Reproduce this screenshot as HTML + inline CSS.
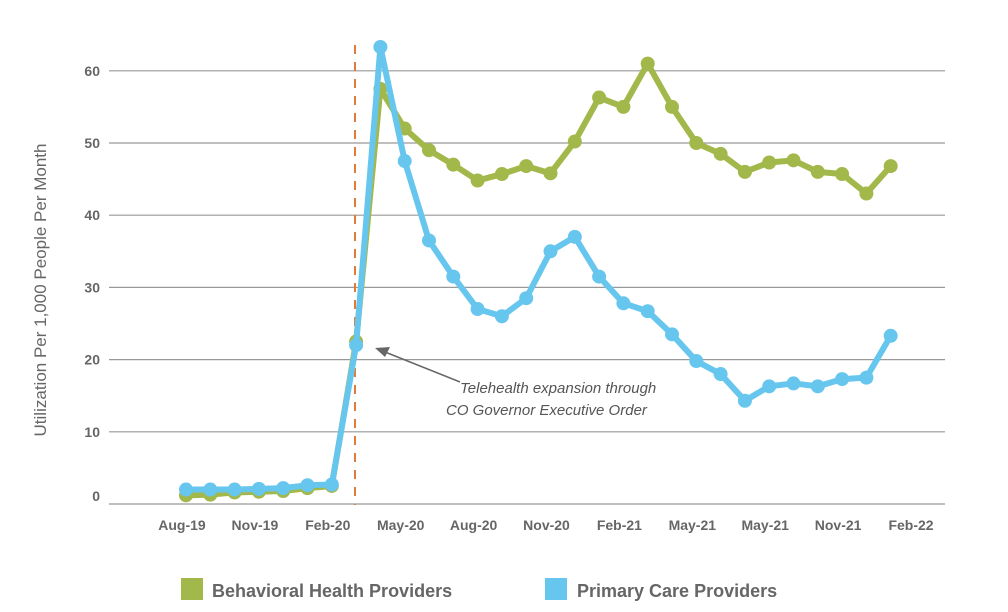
<!DOCTYPE html>
<html><head><meta charset="utf-8"><style>
body{margin:0;background:#fff;}
svg{display:block;font-family:"Liberation Sans",sans-serif;}
</style></head><body>
<svg id="chart" width="1008" height="612">
<g id="grid"></g>
<line x1="355" y1="45" x2="355" y2="505" stroke="#e07b39" stroke-width="2" stroke-dasharray="9,8"/>
<g id="series"></g>
<text transform="translate(46,290) rotate(-90)" text-anchor="middle" font-size="17" fill="#666">Utilization Per 1,000 People Per Month</text>
<g>
<line x1="460" y1="382" x2="385" y2="352" stroke="#666" stroke-width="1.5"/>
<polygon points="375,348 390,347 385,357" fill="#666"/>
<text x="460" y="393" font-size="15" font-style="italic" fill="#555">Telehealth expansion through</text>
<text x="446" y="415" font-size="15" font-style="italic" fill="#555">CO Governor Executive Order</text>
</g>
<g>
<rect x="181" y="578" width="22" height="22" fill="#a3b84a"/>
<text x="212" y="597" font-size="18" font-weight="bold" fill="#666">Behavioral Health Providers</text>
<rect x="545" y="578" width="22" height="22" fill="#67c6ee"/>
<text x="577" y="597" font-size="18" font-weight="bold" fill="#666">Primary Care Providers</text>
</g>
</svg>
<script>
const yTicks=[0,10,20,30,40,50,60];
const xLabels=["Aug-19","Nov-19","Feb-20","May-20","Aug-20","Nov-20","Feb-21","May-21","May-21","Nov-21","Feb-22"];
const behavioral=[1.2,1.3,1.6,1.7,1.8,2.2,2.5,22.5,57.5,52,49,47,44.8,45.7,46.8,45.8,50.2,56.3,55,61,55,50,48.5,46,47.3,47.6,46,45.7,43,46.8];
const primary=[2,2,2,2.1,2.2,2.6,2.7,22,63.3,47.5,36.5,31.5,27,26,28.5,35,37,31.5,27.8,26.7,23.5,19.8,18,14.3,16.3,16.7,16.3,17.3,17.5,23.3];
const NS="http://www.w3.org/2000/svg";
const y=v=>504-v*7.22;
const x=i=>186+i*24.3;
function mk(t,a,p){const e=document.createElementNS(NS,t);for(const k in a)e.setAttribute(k,a[k]);p.appendChild(e);return e;}
const grid=document.getElementById('grid');
yTicks.forEach(v=>{
 const l=mk('line',{x1:109,x2:945,y1:y(v),y2:y(v),stroke:'#999','stroke-width':1.2},grid);
 
 
 const t=mk('text',{x:100,y:y(v)+(v===0?-3:5),'text-anchor':'end','font-size':14,'font-weight':'bold',fill:'#666'},grid);
 t.textContent=v;
 
 
});
xLabels.forEach((s,k)=>{
 const t=mk('text',{x:x(k*3)-4,y:530,'text-anchor':'middle','font-size':14,'font-weight':'bold',fill:'#666'},grid);
 t.textContent=s;
 
 
});
const sg=document.getElementById('series');
[[behavioral,'#a3b84a','behavioral'],[primary,'#67c6ee','primary']].forEach(([d,c,n])=>{
 const g=mk('g',{},sg);
 
 
 const p=mk('polyline',{points:d.map((v,i)=>x(i)+','+y(v)).join(' '),fill:'none',stroke:c,'stroke-width':6,'stroke-linejoin':'round'},g);
 
 
 d.forEach((v,i)=>{
  const ci=mk('circle',{cx:x(i),cy:y(v),r:7,fill:c},g);
  
  
 });
});
</script>
</body></html>
